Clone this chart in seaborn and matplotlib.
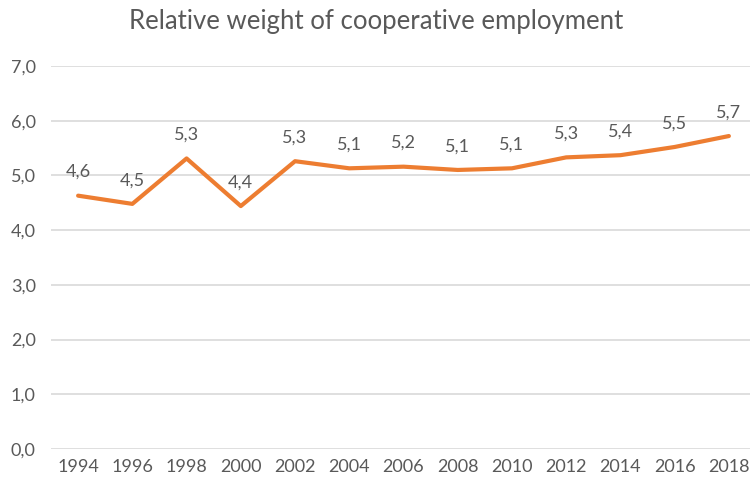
import matplotlib
matplotlib.use("Agg")
import matplotlib.pyplot as plt
import seaborn as sns
import pandas as pd

years = ["1994", "1996", "1998", "2000", "2002", "2004", "2006",
         "2008", "2010", "2012", "2014", "2016", "2018"]
weight = [4.63, 4.48, 5.31, 4.44, 5.26, 5.13, 5.16,
          5.10, 5.13, 5.33, 5.37, 5.52, 5.72]
y_ticks = [0, 1, 2, 3, 4, 5, 6, 7]
title = "Relative weight of cooperative employment"

sns.set_theme(style="white")
plt.rcParams["font.family"] = ["Lato", "DejaVu Sans"]

text_color = "#595959"
line_color = "#ED7D31"
grid_color = "#D9D9D9"

df = pd.DataFrame({"year": years, "weight": weight})
df["pos"] = range(len(df))

fig = plt.figure(figsize=(7.5, 4.78), dpi=100)
ax = fig.add_axes([51 / 750, 1 - 449 / 478, 705 / 750, (449 - 66) / 478])

sns.lineplot(data=df, x="pos", y="weight", ax=ax, color=line_color,
             linewidth=3.0, solid_capstyle="round", solid_joinstyle="round")

for p, v in zip(df["pos"], df["weight"]):
    ax.annotate(f"{v:.1f}".replace(".", ","), (p, v), xytext=(0, 17),
                textcoords="offset points", ha="center", va="center",
                fontsize=13, color=text_color)

ax.set_xlim(-0.5, len(years) - 0.5)
ax.set_ylim(0, 7)
ax.set_xticks(range(len(years)))
ax.set_xticklabels(years)
ax.set_yticks(y_ticks)
ax.set_yticklabels([f"{t:.1f}".replace(".", ",") for t in y_ticks])
ax.tick_params(axis="both", length=0, labelsize=13, colors=text_color)
ax.tick_params(axis="x", pad=7)
ax.tick_params(axis="y", pad=11)
ax.set_xlabel("")
ax.set_ylabel("")
ax.grid(axis="y", color=grid_color, linewidth=1.2)
ax.set_axisbelow(True)
for s in ax.spines.values():
    s.set_visible(False)

fig.text(376 / 750, 1 - 22 / 478, title, ha="center", va="center",
         fontsize=18.5, color=text_color)

fig.savefig("out.png", dpi=100, facecolor="white")
